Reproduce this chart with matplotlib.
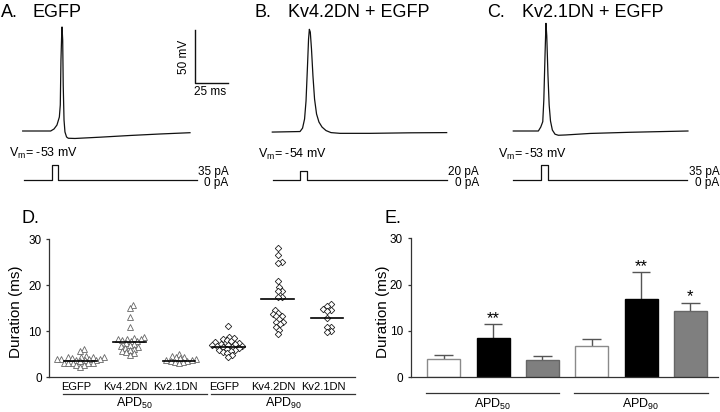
import numpy as np
import matplotlib
matplotlib.use('Agg')
import matplotlib.pyplot as plt
from matplotlib.transforms import blended_transform_factory as blend

plt.rcParams['font.family'] = ['Liberation Sans', 'DejaVu Sans']
plt.rcParams['mathtext.fontset'] = 'custom'
plt.rcParams['mathtext.rm'] = 'Liberation Sans'
plt.rcParams['mathtext.it'] = 'Liberation Sans:italic'
plt.rcParams['mathtext.bf'] = 'Liberation Sans:bold'

# ---------------- data ----------------
panel_letters = ["A.", "B.", "C."]
panel_titles = ["EGFP", "Kv4.2DN + EGFP", "Kv2.1DN + EGFP"]
resting_vm = [-53, -54, -53]      # mV
step_amp = [35, 20, 35]           # pA

# action potential traces: time (ms), membrane voltage (mV)
trace_a_t = [0, 21.0, 23.5, 25.7, 27.5, 28.2, 28.7, 29.3, 29.5, 30.0, 30.4, 31.0, 31.7, 32.9, 34.2, 39.2, 58.0, 80.5, 103.0, 125.5]
trace_a_v = [-53, -53, -51.1, -47.4, -39.9, -28.6, 13.5, 39.8, 44.5, 32.3, -9.9, -42.7, -53.9, -58.6, -59.8, -60.0, -58.8, -57.2, -55.8, -54.6]
trace_b_t = [0, 20.8, 22.7, 24.2, 25.3, 26.4, 27.2, 27.8, 28.5, 29.4, 30.5, 31.7, 33.2, 35.0, 37.3, 40.3, 44.0, 50.8, 73.3, 103.3, 130.8]
trace_b_v = [-54, -53.5, -50.3, -41.8, -24.9, 7.9, 33.2, 42.3, 39.7, 23.8, -1.5, -23.1, -37.1, -44.6, -49.3, -52.6, -54.5, -55.2, -55.2, -54.7, -54.5]
trace_c_t = [0, 18.8, 20.6, 22.1, 22.9, 23.8, 24.5, 25.1, 26.0, 26.9, 27.9, 29.3, 31.3, 33.8, 39.5, 57.5, 87.5, 131.0]
trace_c_v = [-53, -53, -49.3, -44.3, -23.9, 18.2, 47.9, 36.3, -0.5, -28.6, -43.6, -52.1, -56.0, -57.0, -56.7, -55.3, -54.2, -53.0]
traces_t = [trace_a_t, trace_b_t, trace_c_t]
traces_v = [trace_a_v, trace_b_v, trace_c_v]

# current injection steps: on/off times (ms) and sweep ends (ms)
step_start = [1.0, 0.75, 0.0]
step_on = [21.8, 20.8, 20.8]
step_off = [26.7, 26.3, 26.3]
step_end = [130.5, 130.8, 130.1]

scale_ms = 25
scale_mv = 50

# panel D: individual durations (ms)
conditions = ["EGFP", "Kv4.2DN", "Kv2.1DN"]
measures = ["APD$_{50}$", "APD$_{90}$"]
apd50_egfp = [6.1, 5.6, 4.6, 4.5, 4.5, 4.4, 4.3, 4.2, 3.9, 3.9, 3.8, 3.9, 3.8, 3.9, 3.7, 3.6, 3.2, 3.1, 3.2, 3.0, 3.1, 2.7, 2.6, 2.3]
apd50_kv42 = [15.6, 15.1, 13.0, 11.0, 8.8, 8.6, 8.4, 8.2, 8.2, 8.0, 7.9, 7.8, 7.5, 7.2, 7.0, 6.8, 6.6, 6.4, 6.2, 6.0, 5.7, 5.5, 5.2, 4.9]
apd50_kv21 = [5.0, 4.7, 4.5, 4.3, 4.1, 3.9, 3.8, 3.7, 3.6, 3.5, 3.4, 3.3, 3.2]
apd90_egfp = [11.1, 8.8, 8.5, 8.3, 8.0, 7.8, 7.6, 7.5, 7.3, 7.2, 7.1, 6.9, 6.8, 6.7, 6.6, 6.5, 6.4, 6.2, 6.0, 5.9, 5.7, 5.5, 5.2, 4.8, 4.3]
apd90_kv42 = [28.0, 26.5, 25.0, 24.9, 20.8, 19.6, 18.8, 18.7, 17.5, 17.4, 14.7, 14.0, 13.8, 13.3, 13.2, 12.6, 12.1, 12.0, 11.5, 11.0, 10.3, 9.4]
apd90_kv21 = [15.9, 15.4, 14.8, 14.6, 14.3, 12.8, 11.0, 10.9, 10.0, 9.9]
scatter_groups = [apd50_egfp, apd50_kv42, apd50_kv21, apd90_egfp, apd90_kv42, apd90_kv21]
scatter_lines = [3.6, 7.7, 3.6, 6.5, 17.0, 12.8]

# panel E: mean + error (ms)
bar_means = [3.9, 8.4, 3.75, 6.75, 17.0, 14.3]
bar_errs = [0.85, 3.05, 0.85, 1.45, 5.7, 1.8]
bar_stars = ["", "**", "", "", "**", "*"]

# ---------------- layout ----------------
W, H = 720, 412
fig = plt.figure(figsize=(7.2, 4.12), dpi=100)

def fx(x):
    return x / W

def fy(y):
    return 1 - y / H

def px_axes(x0, y0, x1, y1):
    return fig.add_axes([fx(x0), fy(y1), (x1 - x0) / W, (y1 - y0) / H])

PX_MS = 1.333
PX_MV = 1.067
PX_PA = 0.43
trace_x0 = [22.7, 272.3, 513.3]
title_letter_x = [1, 255, 486.7]
title_text_x = [33, 288.3, 521.7]
vm_x = [9.3, 258.3, 498.3]
vm_y = [156.5, 158, 158]
pa_right = [228.7, 479, 719.5]
AW = 210
V_REF, Y_REF = -53, 131.0

for i in range(3):
    x0 = trace_x0[i]
    axv = px_axes(x0, 10, x0 + AW, 150)
    axv.set_xlim(0, AW / PX_MS)
    axv.set_ylim(V_REF - (150 - Y_REF) / PX_MV, V_REF + (Y_REF - 10) / PX_MV)
    axv.axis('off')
    axv.plot(traces_t[i], traces_v[i], color='#111111', lw=0.9, clip_on=False,
             solid_joinstyle='round')

    axi = px_axes(x0, 155, x0 + AW, 192)
    axi.set_xlim(0, AW / PX_MS)
    axi.set_ylim(-(192 - 180) / PX_PA, (180 - 155) / PX_PA)
    axi.axis('off')
    st = [step_start[i], step_on[i], step_on[i], step_off[i], step_off[i], step_end[i]]
    si = [0, 0, step_amp[i], step_amp[i], 0, 0]
    axi.plot(st, si, color='#111111', lw=0.9, clip_on=False)

    fig.text(fx(title_letter_x[i]), fy(16.7), panel_letters[i], fontsize=13, ha='left', va='baseline')
    fig.text(fx(title_text_x[i]), fy(16.7), panel_titles[i], fontsize=13, ha='left', va='baseline')
    fig.text(fx(vm_x[i]), fy(vm_y[i]), "V$_\\mathrm{m}$= %d mV" % resting_vm[i], fontsize=9,
             ha='left', va='baseline')
    fig.text(fx(pa_right[i]), fy(175), "%d pA" % step_amp[i], fontsize=8.5, ha='right', va='baseline')
    fig.text(fx(pa_right[i]), fy(185.5), "0 pA", fontsize=8.5, ha='right', va='baseline')

    if i == 0:
        sb_t0 = (195 - x0) / PX_MS
        sb_v0 = V_REF - (83.3 - Y_REF) / PX_MV
        axv.plot([sb_t0, sb_t0, sb_t0 + scale_ms], [sb_v0 + scale_mv, sb_v0, sb_v0],
                 color='#111111', lw=1.0, clip_on=False)
        fig.text(fx(210.5), fy(95), "%d ms" % scale_ms, fontsize=8.5, ha='center', va='baseline')
        fig.text(fx(184.5), fy(56.7), "%d mV" % scale_mv, fontsize=8.5, ha='center', va='center',
                 rotation=90)

spine_col = '#333333'

def style_axes(ax):
    for s in ['top', 'right']:
        ax.spines[s].set_visible(False)
    for s in ['left', 'bottom']:
        ax.spines[s].set_color(spine_col)
        ax.spines[s].set_linewidth(0.9)
    ax.set_yticks([0, 10, 20, 30])
    ax.set_xticks([])
    ax.tick_params(axis='y', direction='out', length=2.5, width=0.9, color=spine_col,
                   labelsize=8.5, pad=3)

# ---------------- panel D ----------------
axD = px_axes(49.3, 239, 355, 377.3)
axD.set_xlim(-0.63, 5.57)
axD.set_ylim(0, 30)
style_axes(axD)

sx_D = (355 - 49.3) / 6.2
sy_D = (377.3 - 239) / 30.0

def swarm(values, dia, sx, sy):
    vals = np.asarray(values, float)
    ys = vals * sy
    px_list, py_list = [], []
    offs = np.zeros(len(vals))
    for k in np.argsort(vals, kind='stable'):
        y = ys[k]
        cands = [0.0]
        near = []
        for xp, yp in zip(px_list, py_list):
            dy = abs(yp - y)
            if dy < dia:
                dx = np.sqrt(dia ** 2 - dy ** 2)
                near.append((xp, dx))
                cands += [xp + dx, xp - dx]
        cands.sort(key=abs)
        for c in cands:
            if all(abs(c - xp) >= dx - 1e-9 for xp, dx in near):
                offs[k] = c
                break
        px_list.append(offs[k])
        py_list.append(y)
    return offs / sx

for g, vals in enumerate(scatter_groups):
    offs = swarm(vals, 4.3, sx_D, sy_D)
    if g < 3:
        axD.plot(g + offs, vals, linestyle='none', marker='^', ms=4.2, mfc='white',
                 mec='#666666', mew=0.6, clip_on=False)
    else:
        axD.plot(g + offs, vals, linestyle='none', marker='D', ms=3.3, mfc='white',
                 mec='#222222', mew=0.6, clip_on=False)
    axD.plot([g - 0.33, g + 0.33], [scatter_lines[g], scatter_lines[g]], color='black', lw=1.2)

trD = blend(axD.transData, fig.transFigure)
for g in range(6):
    axD.text(g - 0.08, fy(390), conditions[g % 3], transform=trD, fontsize=8, ha='center',
             va='baseline')
for m in range(2):
    a, b = 3 * m - 0.345, 3 * m + (2.56 if m == 0 else 2.57)
    axD.plot([a, b], [fy(394), fy(394)], transform=trD, color=spine_col, lw=0.9, clip_on=False)
    axD.text((a + b) / 2, fy(407), measures[m], transform=trD, fontsize=9, ha='center',
             va='baseline')
fig.text(fx(16.5), fy(311.7), "Duration (ms)", fontsize=11, rotation=90, ha='center', va='center')
fig.text(fx(21.7), fy(223.3), "D.", fontsize=13, ha='left', va='baseline')

# ---------------- panel E ----------------
axE = px_axes(410.7, 238.3, 718, 377.3)
axE.set_xlim(-0.67, 5.56)
axE.set_ylim(0, 30)
style_axes(axE)

bx = np.arange(len(bar_means))
fills = ['white', 'black', '#7f7f7f'] * 2
edges = ['#8a8a8a', 'black', '#666666'] * 2
axE.bar(bx, bar_means, width=0.67, color=fills, edgecolor=edges, linewidth=1.0, zorder=2)
tops = np.array(bar_means) + np.array(bar_errs)
axE.vlines(bx, bar_means, tops, color='#555555', lw=1.0, zorder=1)
axE.hlines(tops, bx - 0.19, bx + 0.19, color='#555555', lw=1.0, zorder=1)
for k in range(len(bx)):
    if bar_stars[k]:
        axE.annotate(bar_stars[k], (bx[k], tops[k]), xytext=(0, 0.8), textcoords='offset points',
                     ha='center', va='baseline', fontsize=12)

trE = blend(axE.transData, fig.transFigure)
for m in range(2):
    a, b = 3 * m - 0.365, 3 * m + (2.33 if m == 0 else 2.35)
    axE.plot([a, b], [fy(393.3), fy(393.3)], transform=trE, color=spine_col, lw=0.9, clip_on=False)
    axE.text((a + b) / 2, fy(408.3), measures[m], transform=trE, fontsize=9, ha='center',
             va='baseline')
fig.text(fx(383.5), fy(311.7), "Duration (ms)", fontsize=11, rotation=90, ha='center', va='center')
fig.text(fx(385), fy(223.3), "E.", fontsize=13, ha='left', va='baseline')

fig.savefig('out.png', dpi=100)
